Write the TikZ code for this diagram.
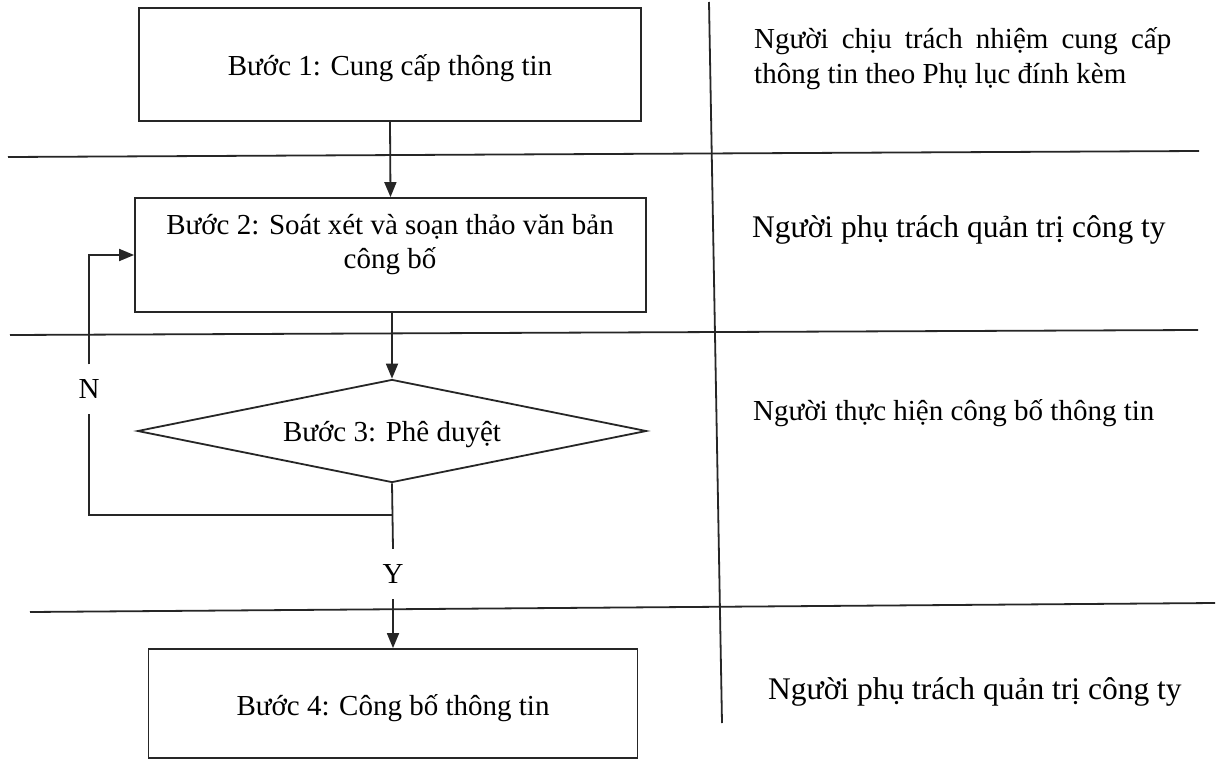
\documentclass[tikz,border=0pt]{standalone}
\usepackage{fontspec}
\setmainfont{Liberation Serif}
\usetikzlibrary{shapes.geometric,arrows.meta}
\begin{document}
\begin{tikzpicture}[x=1pt,y=-1pt,
  stepbox/.style={draw=black!85,line width=1.8pt,rectangle,inner sep=0pt},
  decbox/.style={draw=black!85,line width=1.8pt,diamond,inner sep=0pt},
  lbl/.style={inner sep=0pt,font=\fontsize{29}{34}\selectfont},
  rtext/.style={inner sep=0pt,font=\fontsize{29}{35}\selectfont},
  rtextb/.style={inner sep=0pt,font=\fontsize{31.5}{38}\selectfont},
  conn/.style={draw=black!85,line width=1.8pt},
  arr/.style={draw=black!85,line width=1.8pt,-{Triangle[length=15pt,width=12pt]}},
  sep/.style={draw=black!85,line width=1.8pt}
]
\useasboundingbox[fill=white] (0,0) rectangle (1229,760);

% lane separators
\draw[sep] (8,157) -- (1199,151);
\draw[sep] (10,335) -- (1198,330);
\draw[sep] (30,612) -- (1215,603);
\draw[sep] (709,2) -- (722,723);

% steps
\node[stepbox,minimum width=502pt,minimum height=113pt] (b1) at (390,64.5) {};
\node[lbl] (b1t) at (390,68) {Bước 1: Cung cấp thông tin};
\node[stepbox,minimum width=511pt,minimum height=114pt] (b2) at (390.5,255) {};
\node[lbl,align=center] (b2t) at (390,245) {Bước 2: Soát xét và soạn thảo văn bản\\công bố};
\node[decbox,minimum width=509pt,minimum height=103pt] (d) at (392,431) {};
\node[lbl] (dt) at (392,435) {Bước 3: Phê duyệt};
\node[stepbox,minimum width=489pt,minimum height=109pt] (b4) at (393,703.5) {};
\node[lbl] (b4t) at (393,708) {Bước 4: Công bố thông tin};

% labels
\node[lbl,minimum height=50pt] (Y) at (393,574) {Y};
\node[lbl,minimum height=49pt] (N) at (89,389) {N};

% connectors
\draw[arr] (b1.south) -- (b2.north);
\draw[arr] (d.north |- b2.south) -- (d.north);
\draw[conn] (d.south) -- (Y.north);
\draw[arr] (Y.south) -- (Y.south |- b4.north);
\coordinate (j) at (d.south |- 0,515);
\draw[conn] (j) -| (N.south);
\draw[arr] (N.north) |- (b2.west);

% responsibility column
\node[rtext,anchor=north west,text width=417pt,align=justify] (r1) at (754,27) {Người chịu trách nhiệm cung cấp thông tin theo Phụ lục đính kèm};
\node[rtextb,anchor=west] (r2) at (752,230) {Người phụ trách quản trị công ty};
\node[rtext,anchor=west] (r3) at (753,413) {Người thực hiện công bố thông tin};
\node[rtextb,anchor=west] (r4) at (768,692) {Người phụ trách quản trị công ty};
\end{tikzpicture}
\end{document}
